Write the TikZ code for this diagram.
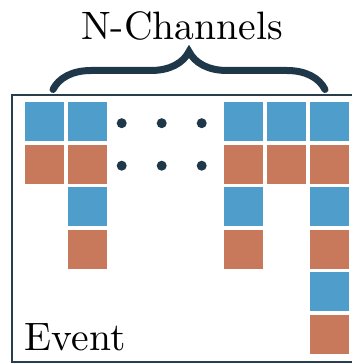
\documentclass[tikz,border=0pt]{standalone}
\usetikzlibrary{decorations.pathreplacing}
\definecolor{cblue}{RGB}{79,157,203}
\definecolor{corange}{RGB}{200,121,92}
\definecolor{navy}{RGB}{30,56,74}
\definecolor{framec}{RGB}{38,62,78}
\begin{document}
\begin{tikzpicture}[x=1pt,y=-1pt,
  sq/.style={minimum size=39pt,inner sep=0pt,outer sep=0pt},
  bsq/.style={sq,fill=cblue},
  osq/.style={sq,fill=corange},
  dotn/.style={circle,fill=navy,minimum size=10pt,inner sep=0pt},
  bigtext/.style={font=\fontsize{10}{12}\selectfont,inner sep=0pt,scale=3.96}]
\useasboundingbox (0,0) rectangle (352,363);
\clip (0,0) rectangle (352,363);
% frame
\draw[framec,line width=2pt] (11.8,95) rectangle (400,362);
% column 1
\node[bsq] (a1) at (44.5,121.5) {};
\node[osq] (a2) at (44.5,164.1) {};
% column 2
\node[bsq] (b1) at (87.3,121.5) {};
\node[osq] (b2) at (87.3,164.1) {};
\node[bsq] (b3) at (87.3,206.7) {};
\node[osq] (b4) at (87.3,249.3) {};
% column 3
\node[bsq] (c1) at (243.5,121.5) {};
\node[osq] (c2) at (243.5,164.1) {};
\node[bsq] (c3) at (243.5,206.7) {};
\node[osq] (c4) at (243.5,249.3) {};
% column 4
\node[bsq] (d1) at (286.5,121.5) {};
\node[osq] (d2) at (286.5,164.1) {};
% column 5
\node[bsq] (e1) at (329.5,121.5) {};
\node[osq] (e2) at (329.5,164.1) {};
\node[bsq] (e3) at (329.5,206.7) {};
\node[osq] (e4) at (329.5,249.3) {};
\node[bsq] (e5) at (329.5,291.9) {};
\node[osq] (e6) at (329.5,334.5) {};
% dots
\node[dotn] (p1) at (121.7,123.2) {};
\node[dotn] (p2) at (161.7,123.2) {};
\node[dotn] (p3) at (201.7,123.2) {};
\node[dotn] (q1) at (121.7,165.7) {};
\node[dotn] (q2) at (161.7,165.7) {};
\node[dotn] (q3) at (201.7,165.7) {};
% brace
\coordinate (bl) at (53,89.5);
\coordinate (br) at (325,89.5);
\draw[navy,line width=7pt,line cap=round,decorate,decoration={brace,amplitude=38pt}] (bl) -- (br);
% labels
\node[bigtext,anchor=base] (lab) at (182,39.3) {N-Channels};
\node[bigtext,anchor=base west] (ev) at (24,350) {Event};
\end{tikzpicture}
\end{document}
